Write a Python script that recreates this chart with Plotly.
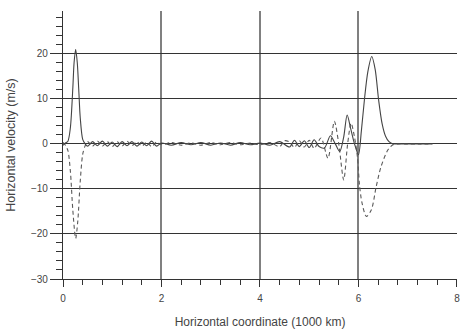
import plotly.graph_objects as go

# Horizontal coordinate (1000 km) and velocity (m/s)
x_solid = [0.00, 0.05, 0.10, 0.15, 0.20, 0.225, 0.257, 0.29, 0.32, 0.35, 0.40, 0.45,
           0.50, 0.60, 0.70, 0.80, 0.90, 1.00, 1.10, 1.20, 1.30, 1.40, 1.50, 1.60,
           1.70, 1.80, 1.90, 2.00, 2.20, 2.40, 2.60, 2.80, 3.00, 3.20, 3.40, 3.60,
           3.80, 4.00, 4.20, 4.40, 4.60, 4.70, 4.80, 4.90, 5.00, 5.10, 5.20, 5.31,
           5.43, 5.53, 5.62, 5.70, 5.77, 5.84, 5.92, 6.00, 6.06, 6.12, 6.19, 6.27,
           6.34, 6.41, 6.48, 6.55, 6.62, 6.70, 6.80, 7.00, 7.20, 7.50]
v_solid = [-0.3, 0.2, 0.6, 3.6, 12.5, 18.0, 21.0, 18.0, 12.0, 5.8, 1.0, 0.0,
           -0.5, 0.5, -0.4, 0.6, -0.5, 0.4, -0.6, 0.5, -0.4, 0.5, -0.5, 0.4,
           -0.4, 0.6, -0.5, 0.2, -0.3, 0.3, -0.2, 0.3, -0.3, 0.2, -0.3, 0.3,
           -0.2, 0.2, -0.3, 0.5, -0.7, 0.8, -0.6, 0.7, -0.8, 0.9, -0.6, -0.9,
           1.8, 0.0, -1.7, 1.5, 6.4, 3.5, 0.0, -2.4, 3.0, 9.7, 16.0, 19.4,
           16.5, 9.7, 4.5, 1.7, 0.5, 0.0, 0.0, 0.0, 0.0, 0.0]

x_dashed = [0.00, 0.05, 0.10, 0.15, 0.20, 0.257, 0.30, 0.35, 0.40, 0.45,
            0.50, 0.60, 0.70, 0.80, 0.90, 1.00, 1.10, 1.20, 1.30, 1.40, 1.50, 1.60,
            1.70, 1.80, 1.90, 2.00, 2.20, 2.40, 2.60, 2.80, 3.00, 3.20, 3.40, 3.60,
            3.80, 4.00, 4.20, 4.40, 4.50, 4.60, 4.70, 4.80, 4.90, 5.00, 5.10, 5.24,
            5.38, 5.51, 5.60, 5.70, 5.78, 5.85, 5.92, 5.98, 6.02, 6.07, 6.16, 6.26,
            6.36, 6.46, 6.60, 6.70, 6.80, 7.00, 7.20, 7.50]
v_dashed = [0.3, -0.3, -1.5, -6.1, -14.8, -21.0, -17.2, -8.3, -2.3, -0.4,
            0.5, -0.5, 0.6, -0.5, 0.5, -0.6, 0.5, -0.5, 0.6, -0.4, 0.5, -0.5,
            0.4, -0.6, 0.4, -0.2, 0.3, -0.3, 0.2, -0.3, 0.3, -0.2, 0.3, -0.2,
            0.2, -0.2, 0.3, -0.6, 0.7, 0.4, -0.8, 0.7, -0.7, 0.8, -1.0, 1.3,
            -3.2, 5.0, 0.0, -8.0, 0.0, 4.6, 1.5, -3.0, -9.0, -13.0, -16.1, -14.7,
            -9.5, -5.0, -1.3, -0.2, 0.0, 0.0, 0.0, 0.0]

x_range = [0, 8.001]
y_range = [-30, 29.5]

fig = go.Figure()
fig.add_trace(go.Scatter(x=x_dashed, y=v_dashed, mode="lines",
                         line=dict(color="#5a5a5a", width=1.1, dash="4px,3px",
                                   shape="spline", smoothing=0.8),
                         showlegend=False))
fig.add_trace(go.Scatter(x=x_solid, y=v_solid, mode="lines",
                         line=dict(color="#444444", width=1.1,
                                   shape="spline", smoothing=0.8),
                         showlegend=False))

fnt = dict(family="Liberation Sans, Arial, sans-serif", size=10, color="#444444")

fig.update_layout(
    width=465, height=332,
    margin=dict(l=63, r=5, t=11, b=53),
    paper_bgcolor="white", plot_bgcolor="white",
    font=fnt,
    xaxis=dict(range=x_range, tick0=0, dtick=2, ticks="outside", ticklen=7,
               tickcolor="#333333", tickwidth=1, ticklabelstandoff=3,
               showline=True, linecolor="#333333", linewidth=1.3,
               showgrid=True, gridcolor="#808080", gridwidth=1.6,
               zeroline=False,
               minor=dict(dtick=0.4, ticks="outside", ticklen=5, tickcolor="#333333",
                          showgrid=False),
               title=dict(text="Horizontal coordinate (1000 km)",
                          font=dict(size=12, color="#444444"), standoff=14),
               tickfont=fnt),
    yaxis=dict(range=y_range, tick0=0, dtick=10, ticks="outside", ticklen=12,
               tickcolor="#333333", tickwidth=1,
               showline=True, linecolor="#333333", linewidth=1.3,
               showgrid=True, gridcolor="#333333", gridwidth=1.2,
               zeroline=True, zerolinecolor="#333333", zerolinewidth=1.2,
               minor=dict(dtick=2, ticks="outside", ticklen=6, tickcolor="#333333",
                          showgrid=False),
               title=dict(text="Horizontal velocity (m/s)",
                          font=dict(size=12.5, color="#444444"), standoff=12),
               tickfont=fnt),
)

fig.write_html("out.html")
